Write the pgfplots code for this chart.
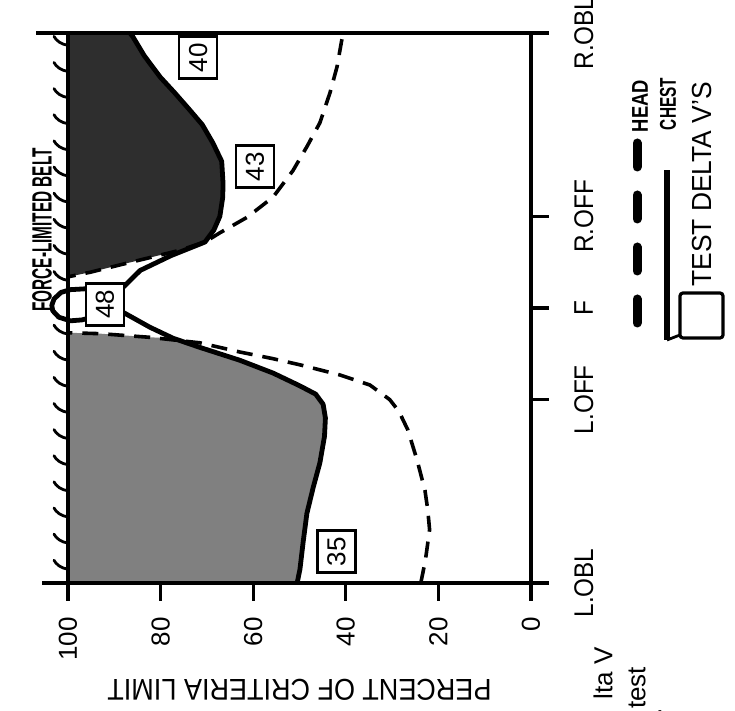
\documentclass[border=0pt]{standalone}
\usepackage{fontspec}
\usepackage{graphicx}
\setmainfont{Liberation Sans}
\newfontfamily\labfont{Liberation Sans}[FakeStretch=0.9]
\usepackage{pgfplots}
\pgfplotsset{compat=1.18}

\begin{document}
\begin{tikzpicture}
\useasboundingbox (-34pt,-64pt) rectangle (333.5pt,291.5pt);
\begin{axis}[
  at={(0,0)}, anchor=south west,
  width=231.5pt, height=275pt, scale only axis,
  xmin=0, xmax=100, ymin=0, ymax=6, x dir=reverse,
  clip=false, axis on top,
  axis line style={line width=1.6pt},
  xtick={0,20,40,60,80,100}, ytick={0,2,3,4,6},
  yticklabels={L.OBL,L.OFF,F,R.OFF,R.OBL},
  xtick pos=bottom, ytick pos=right,
  xticklabel pos=bottom, yticklabel pos=right,
  tick align=outside, major tick length=9pt,
  tick style={black, line width=1.6pt},
  /pgf/number format/assume math mode=true,
  xticklabel style={rotate=90, anchor=east, inner sep=0pt,
    font=\fontsize{13}{15}\selectfont},
  yticklabel style={rotate=90, anchor=north, inner sep=0pt,
    font=\labfont\fontsize{13.5}{15}\selectfont},
  xticklabel shift=8pt, yticklabel shift=12.5pt,
  xlabel={PERCENT OF CRITERIA LIMIT},
  xlabel style={at={(axis description cs:0.5,-0.1945)}, anchor=center,
    rotate=180, font=\labfont\fontsize{15}{17}\selectfont},
]
% region above both criteria curves, left/oblique side
\addplot[draw=none, fill=black!50] coordinates {
  (100,0) (50.5,0) (49.9,0.15) (49.2,0.45) (48.4,0.76) (47.0,1.05)
  (45.6,1.31) (44.6,1.6) (44.4,1.8) (44.9,1.95) (46.5,2.06) (49.9,2.15)
  (55.7,2.29) (62.9,2.43) (71.5,2.57) (77.3,2.67) (82.3,2.68) (93,2.72)
  (100,2.73)} -- cycle;
% region above both criteria curves, right/oblique side
\addplot[draw=none, fill=black!82] coordinates {
  (100,3.34) (95.2,3.39) (88.8,3.47) (82.3,3.55) (75.8,3.63) (70.4,3.72)
  (68.5,3.85) (67.2,4.0) (66.6,4.2) (66.5,4.35) (66.8,4.6) (68.7,4.8)
  (71,5.0) (73.7,5.16) (77,5.35) (80.1,5.52) (83.5,5.75) (86,5.96)
  (86.6,6) (100,6)} -- cycle;
% head criterion
\addplot[black, line width=1.8pt, dash pattern=on 8pt off 5pt] coordinates {
  (23.8,0) (22.8,0.25) (21.9,0.58) (22.3,0.8) (22.9,1.01) (24.6,1.34)
  (26.6,1.67) (28.5,1.87) (30.5,2.0) (34.8,2.16) (41.3,2.27) (49.9,2.38)
  (56,2.45) (62.9,2.52) (71.5,2.62) (82.3,2.68) (93,2.72) (100,2.73)
  (100,3.34) (95.2,3.39) (88.8,3.47) (82.3,3.55) (75.8,3.63) (70.4,3.72)
  (67.2,3.82) (61.3,3.99) (55.7,4.21) (51.4,4.5) (48.4,4.76) (45.6,5.02)
  (43.4,5.35) (41.9,5.63) (40.6,6)};
% chest criterion
\addplot[black, line width=2.4pt, line join=round] coordinates {
  (50.5,0) (49.9,0.15) (49.2,0.45) (48.4,0.76) (47.0,1.05) (45.6,1.31)
  (44.6,1.6) (44.4,1.8) (44.9,1.95) (46.5,2.06) (49.9,2.15) (55.7,2.29)
  (62.9,2.43) (71.5,2.57) (77.3,2.67) (82.3,2.79) (88,2.95) (93,2.92)
  (97,2.87) (99.5,2.86) (102,2.9) (103.3,2.97) (103.5,3.03) (103,3.1)
  (101.5,3.17) (99.5,3.2) (96,3.21) (92,3.22) (88,3.23) (84.4,3.41)
  (77.8,3.57) (70.4,3.72) (68.5,3.85) (67.2,4.0) (66.6,4.2) (66.5,4.35)
  (66.8,4.6) (68.7,4.8) (71,5.0) (73.7,5.16) (77,5.35) (80.1,5.52)
  (83.5,5.75) (86,5.96) (86.6,6)};
% test delta V's
\tikzset{dv/.style={draw, line width=1.4pt, fill=white, rotate=90,
  minimum width=21pt, minimum height=19pt, inner sep=0pt,
  font=\fontsize{13}{15}\selectfont}}
\node[dv] at (axis cs:42,0.34) {35};
\node[dv] at (axis cs:92,3.04) {48};
\node[dv] at (axis cs:59.6,4.54) {43};
\node[dv] at (axis cs:71.9,5.73) {40};
% fixed-boundary hatching on the 100 percent edge
\pgfplotsinvokeforeach{0.15,0.435,0.72,1.005,1.29,1.575,1.86,2.145,2.43,2.715,3.3,3.585,3.87,4.155,4.44,4.725,5.01,5.295,5.58,5.865}{
  \draw[line width=1.4pt, line cap=round] (axis cs:100,#1)
    .. controls +(-3.5pt,0.5pt) and +(1pt,-2pt) .. +(-7pt,4.5pt);
}
\draw[line width=1.6pt] (axis cs:100,0) -- +(-13pt,0);
\draw[line width=1.6pt] (axis cs:100,6) -- +(-16pt,0);
\end{axis}
\node[rotate=90, inner sep=0pt]
  at (-13pt,176.5pt) {\scalebox{0.64}[1.16]{\fontsize{12}{14}\selectfont\bfseries FORCE-LIMITED BELT}};
% key
\draw[line width=4.5pt, line cap=round, dash pattern=on 12pt off 14pt]
  (284.5pt,220pt) -- (284.5pt,125pt);
\node[rotate=90, inner sep=0pt]
  at (286pt,238.5pt) {\scalebox{0.765}[0.95]{\fontsize{12}{14}\selectfont\bfseries HEAD}};
\draw[line width=3pt] (299.5pt,121.5pt) -- (299.5pt,206.5pt);
\draw[line width=1.4pt] (299.5pt,121.5pt) -- (306pt,124pt);
\node[rotate=90, inner sep=0pt]
  at (300pt,239.5pt) {\scalebox{0.64}[0.95]{\fontsize{12}{14}\selectfont\bfseries CHEST}};
\draw[line width=1.6pt, rounded corners=1.5pt] (306pt,122.5pt) rectangle (327.5pt,145pt);
\node[rotate=90, anchor=west, inner sep=0pt]
  at (317pt,148pt) {\scalebox{1.1}[1.15]{\fontsize{12}{14}\selectfont TEST DELTA V'S}};
% caption fragments at the page edge
\node[rotate=90, anchor=east, font=\fontsize{13}{15}\selectfont] at (267.5pt,-28.5pt) {lta V};
\node[rotate=90, anchor=east, font=\fontsize{13}{15}\selectfont] at (284.5pt,-38.5pt) {test};
\node[rotate=90, anchor=east, font=\fontsize{13}{15}\selectfont] at (296pt,-59pt) {.};
\end{tikzpicture}
\end{document}
